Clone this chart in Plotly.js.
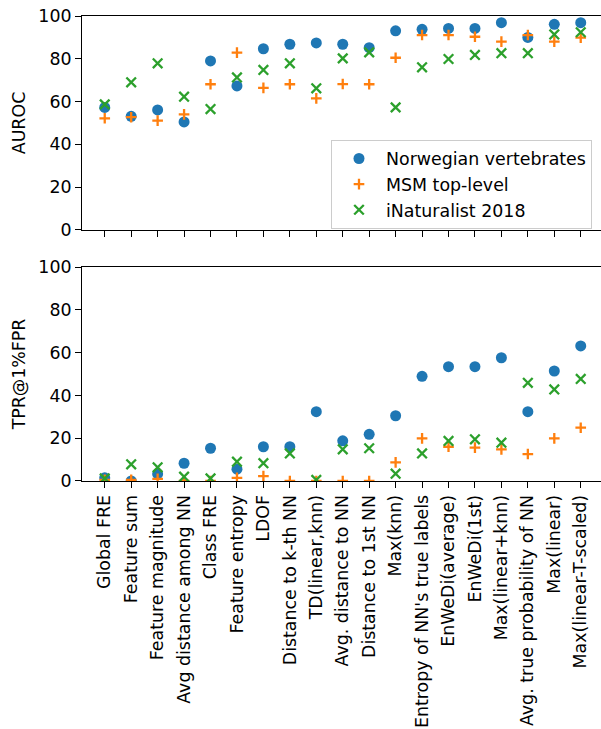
<!DOCTYPE html>
<html>
<head>
<meta charset="utf-8">
<script src="https://cdn.plot.ly/plotly-3.0.1.min.js"></script>
<style>
html,body{margin:0;padding:0;overflow:hidden;background:#fff;width:601px;height:729px;}
#chart{width:606px;height:729px;}
</style>
</head>
<body>
<div id="chart"></div>
<script>
const categories = [
  "Global FRE", "Feature sum", "Feature magnitude", "Avg distance among NN",
  "Class FRE", "Feature entropy", "LDOF", "Distance to k-th NN",
  "TD(linear,knn)", "Avg. distance to NN", "Distance to 1st NN", "Max(knn)",
  "Entropy of NN's true labels", "EnWeDi(average)", "EnWeDi(1st)",
  "Max(linear+knn)", "Avg. true probability of NN", "Max(linear)",
  "Max(linear-T-scaled)"
];
const seriesNames = ["Norwegian vertebrates", "MSM top-level", "iNaturalist 2018"];

const aurocNorwegian = [57.3, 53.1, 56.1, 50.5, 79.0, 67.3, 84.7, 86.8, 87.4, 86.8, 85.2, 93.1, 93.8, 94.2, 94.2, 96.9, 90.0, 96.1, 96.9];
const aurocMSM       = [52.2, 52.7, 51.1, 54.0, 68.1, 82.9, 66.4, 68.1, 61.5, 68.2, 68.1, 80.5, 91.1, 91.1, 90.3, 88.0, 91.1, 88.0, 89.9];
const aurocINat      = [58.7, 69.0, 77.9, 62.3, 56.5, 71.3, 74.8, 77.9, 66.2, 80.2, 83.0, 57.3, 76.0, 79.9, 81.8, 82.6, 82.6, 91.4, 92.4];

const tprNorwegian = [1.5, 0.0, 3.3, 8.3, 15.3, 5.5, 16.0, 16.0, 32.4, 18.8, 21.8, 30.5, 48.9, 53.4, 53.4, 57.6, 32.4, 51.4, 63.1];
const tprMSM       = [0.5, 0.5, 1.0, 0.0, 0.0, 1.5, 2.3, 0.0, 0.0, 0.0, 0.0, 8.7, 19.9, 16.0, 15.6, 14.8, 12.6, 19.9, 24.9];
const tprINat      = [1.2, 7.8, 6.4, 2.0, 1.2, 9.0, 8.3, 12.9, 0.5, 14.8, 15.3, 3.4, 12.9, 18.7, 19.5, 17.9, 45.9, 42.8, 47.7];

const yTickVals = [0, 20, 40, 60, 80, 100];

const colors = ["#1f77b4", "#ff7f0e", "#2ca02c"];
const markerStyles = [
  {symbol: "circle", size: 11, color: colors[0]},
  {symbol: "cross-thin", size: 7.6, color: colors[1], line: {color: colors[1], width: 2.3}},
  {symbol: "x-thin", size: 9.6, color: colors[2], line: {color: colors[2], width: 2.3}}
];

const topData = [aurocNorwegian, aurocMSM, aurocINat];
const botData = [tprNorwegian, tprMSM, tprINat];
const traces = [];
for (let i = 0; i < 3; i++) {
  traces.push({
    type: "scatter", mode: "markers", x: categories, y: topData[i],
    name: seriesNames[i], marker: markerStyles[i], xaxis: "x", yaxis: "y",
    legendgroup: "g" + i, showlegend: true
  });
}
for (let i = 0; i < 3; i++) {
  traces.push({
    type: "scatter", mode: "markers", x: categories, y: botData[i],
    name: seriesNames[i], marker: markerStyles[i], xaxis: "x2", yaxis: "y2",
    legendgroup: "g" + i, showlegend: false
  });
}

const font = {family: "DejaVu Sans, sans-serif", size: 17.4, color: "#000"};
const xRange = [-0.86, 18.88];
const commonX = {
  type: "category", range: xRange, showgrid: false, zeroline: false,
  showline: true, mirror: true, linecolor: "#000", linewidth: 1,
  ticks: "outside", ticklen: 6, tickcolor: "#000", tickwidth: 1
};
const commonY = {
  range: [0, 100], tickvals: yTickVals, showgrid: false, zeroline: false,
  showline: true, mirror: true, linecolor: "#000", linewidth: 1,
  ticks: "outside", ticklen: 6, tickcolor: "#000", tickwidth: 1
};

const layout = {
  width: 606, height: 729,
  margin: {l: 82, r: 2, t: 16, b: 248},
  paper_bgcolor: "#fff", plot_bgcolor: "#fff",
  font: font,
  showlegend: true,
  legend: {
    x: 0.477, y: 0.734, xanchor: "left", yanchor: "top",
    bgcolor: "rgba(255,255,255,0.8)", bordercolor: "#cccccc", borderwidth: 1,
    font: font, tracegroupgap: 0, itemwidth: 44
  },
  xaxis: Object.assign({}, commonX, {anchor: "y", showticklabels: false, matches: "x2"}),
  yaxis: Object.assign({}, commonY, {domain: [0.5398, 1], title: {text: "AUROC", font: font, standoff: 8}}),
  xaxis2: Object.assign({}, commonX, {anchor: "y2", tickangle: -90}),
  yaxis2: Object.assign({}, commonY, {domain: [0, 0.4602], title: {text: "TPR@1%FPR", font: font, standoff: 8}})
};

Plotly.newPlot("chart", traces, layout, {staticPlot: true, responsive: false});
</script>
</body>
</html>
